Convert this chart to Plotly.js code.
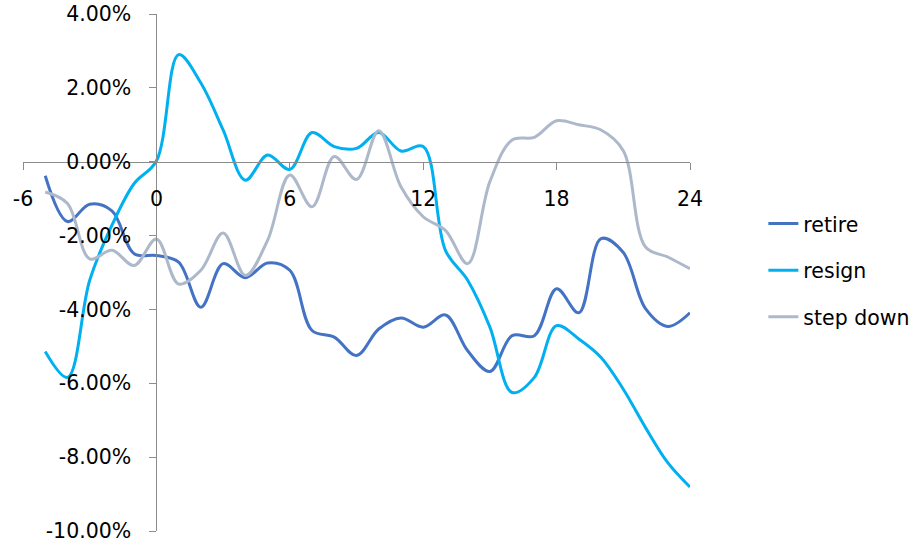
<!DOCTYPE html>
<html>
<head>
<meta charset="utf-8">
<script src="https://cdn.plot.ly/plotly-3.0.1.min.js"></script>
<style>
  html, body { margin: 0; padding: 0; background: #ffffff; }
  #chart { width: 921px; height: 545px; }
</style>
</head>
<body>
<div id="chart"></div>
<script>
// Months relative to the announcement (event month = 0)
const months = [-5, -4, -3, -2, -1, 0, 1, 2, 3, 4, 5, 6, 7, 8, 9, 10, 11, 12,
                13, 14, 15, 16, 17, 18, 19, 20, 21, 22, 23, 24];

// Cumulative abnormal return, in percent
const retire = [-0.38, -1.62, -1.15, -1.33, -2.49, -2.54, -2.72, -3.94, -2.76, -3.14,
                -2.74, -2.94, -4.57, -4.75, -5.25, -4.53, -4.23, -4.48, -4.15, -5.12,
                -5.68, -4.71, -4.71, -3.44, -4.09, -2.08, -2.46, -3.98, -4.46, -4.09];

const resign = [-5.14, -5.84, -3.21, -1.72, -0.59, 0.02, 2.90, 2.13, 0.86, -0.50,
                0.18, -0.21, 0.79, 0.41, 0.36, 0.79, 0.29, 0.41, -2.40, -3.21,
                -4.48, -6.25, -5.84, -4.44, -4.80, -5.30, -6.16, -7.20, -8.15, -8.81];

const stepDown = [-0.82, -1.13, -2.63, -2.40, -2.81, -2.09, -3.31, -2.94, -1.93, -3.08,
                  -2.13, -0.36, -1.22, 0.14, -0.48, 0.84, -0.68, -1.49, -1.86, -2.76,
                  -0.54, 0.59, 0.66, 1.11, 1.00, 0.86, 0.30, -2.31, -2.58, -2.90];

const seriesNames = ['retire', 'resign', 'step down'];
const seriesColors = ['#4472C4', '#00B0F0', '#ADB9CA'];
const seriesValues = [retire, resign, stepDown];

const xTicks = [-6, 0, 6, 12, 18, 24];
const yTicks = [-10, -8, -6, -4, -2, 0, 2, 4];

const xRange = [-6, 24];
const yRange = [-10, 4];

const traces = seriesValues.map((vals, i) => ({
  type: 'scatter',
  mode: 'lines',
  name: seriesNames[i],
  legendgroup: seriesNames[i],
  x: months,
  y: vals,
  line: { color: seriesColors[i], width: 3, shape: 'spline', smoothing: 1 },
  hoverinfo: 'x+y'
}));

const axisColor = '#8c8c8c';
const font = { family: '"DejaVu Sans", sans-serif', size: 20.5, color: '#000000' };

const layout = {
  width: 921,
  height: 545,
  margin: { l: 23, r: 231, t: 14, b: 14, autoexpand: false },
  paper_bgcolor: '#ffffff',
  plot_bgcolor: '#ffffff',
  font: font,
  showlegend: true,
  legend: {
    x: 1.11, xanchor: 'left',
    y: 0.633, yanchor: 'top',
    font: font,
    tracegroupgap: 17,
    bgcolor: 'rgba(0,0,0,0)'
  },
  xaxis: {
    range: xRange,
    tickvals: xTicks,
    ticktext: xTicks.map(String),
    anchor: 'free',
    position: (0 - yRange[0]) / (yRange[1] - yRange[0]),
    showline: true, linecolor: axisColor, linewidth: 1,
    ticks: 'outside', ticklen: 7, tickcolor: axisColor, tickwidth: 1,
    ticklabelstandoff: 12,
    showgrid: false, zeroline: false,
    automargin: false,
    fixedrange: true
  },
  yaxis: {
    range: yRange,
    tickvals: yTicks,
    ticktext: yTicks.map(v => v.toFixed(2) + '%'),
    anchor: 'free',
    position: (0 - xRange[0]) / (xRange[1] - xRange[0]),
    showline: true, linecolor: axisColor, linewidth: 1,
    ticks: 'outside', ticklen: 7, tickcolor: axisColor, tickwidth: 1,
    ticklabelstandoff: 14,
    showgrid: false, zeroline: false,
    automargin: false,
    fixedrange: true
  }
};

Plotly.newPlot('chart', traces, layout, { displayModeBar: false, staticPlot: true });
</script>
</body>
</html>
